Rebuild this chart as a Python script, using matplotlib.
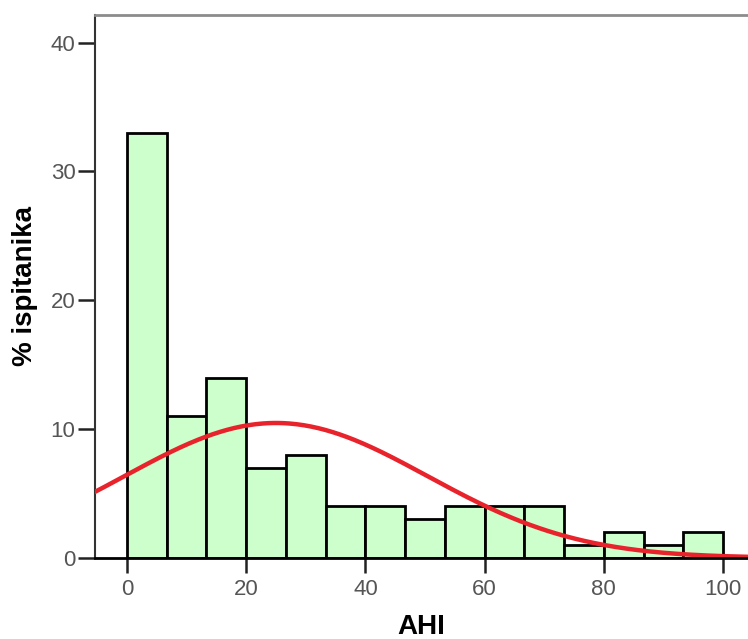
import numpy as np
import matplotlib
matplotlib.use("Agg")
import matplotlib.pyplot as plt

# histogram data (% of subjects per AHI bin)
bin_edges = np.linspace(0, 100, 16)
percent = [33, 11, 14, 7, 8, 4, 4, 3, 4, 4, 4, 1, 2, 1, 2]

# fitted normal curve parameters
ahi_mean = 25.0
ahi_sd = 25.4

x_ticks = [0, 20, 40, 60, 80, 100]
y_ticks = [0, 10, 20, 30, 40]

plt.rcParams['font.family'] = ['Liberation Sans', 'DejaVu Sans']

fig = plt.figure(figsize=(7.48, 6.39), dpi=100)
ax = fig.add_axes([0.127, 0.127, 0.873, 0.850])

widths = np.diff(bin_edges)
ax.bar(bin_edges[:-1], percent, width=widths, align='edge',
       color='#ccffcc', edgecolor='black', linewidth=2, zorder=2)

xs = np.linspace(-10, 110, 400)
bw = widths[0]
curve = 100 * bw * np.exp(-0.5 * ((xs - ahi_mean) / ahi_sd) ** 2) / (ahi_sd * np.sqrt(2 * np.pi))
ax.plot(xs, curve, color='#e8232b', linewidth=3.2, zorder=3)

ax.set_xlim(-5.37, 104.2)
ax.set_ylim(0, 42.17)
ax.set_xticks(x_ticks)
ax.set_yticks(y_ticks)

ax.spines['right'].set_visible(False)
ax.spines['top'].set_color('#8c8c8c')
ax.spines['top'].set_linewidth(2)
ax.spines['left'].set_color('#333333')
ax.spines['left'].set_linewidth(1.5)
ax.spines['bottom'].set_color('black')
ax.spines['bottom'].set_linewidth(2)
ax.spines['bottom'].set_zorder(4)

ax.tick_params(axis='y', length=12, width=1.8, color='#222222',
               labelsize=16, labelcolor='#555555', pad=2)
ax.tick_params(axis='x', length=11, width=1.8, color='#222222',
               labelsize=16, labelcolor='#555555', pad=4)

ax.set_xlabel('AHI', fontsize=20, fontweight='bold', labelpad=10)
ax.set_ylabel('% ispitanika', fontsize=20, fontweight='bold', labelpad=9)

fig.savefig('out.png', dpi=100)
